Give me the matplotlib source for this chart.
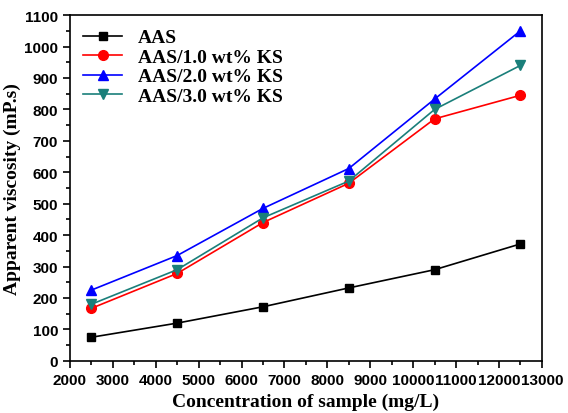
import matplotlib
matplotlib.use('Agg')
import matplotlib.pyplot as plt
from matplotlib.ticker import MultipleLocator

# Data
conc = [2500, 4500, 6500, 8500, 10500, 12500]
aas = [75, 120, 172, 232, 290, 372]
ks10 = [167, 278, 440, 565, 770, 845]
ks20 = [225, 335, 485, 612, 833, 1050]
ks30 = [180, 290, 455, 572, 800, 940]
labels = ['AAS', 'AAS/1.0 wt% KS', 'AAS/2.0 wt% KS', 'AAS/3.0 wt% KS']

fig = plt.figure(figsize=(5.68, 4.14), dpi=100)
ax = fig.add_axes([0.123, 0.126, 0.831, 0.835])

ax.plot(conc, aas, '-s', color='black', lw=1.2, ms=6, label=labels[0])
ax.plot(conc, ks10, '-o', color='red', lw=1.2, ms=7, label=labels[1])
ax.plot(conc, ks20, '-^', color='blue', lw=1.2, ms=7, label=labels[2])
ax.plot(conc, ks30, '-v', color='#1a7f7a', lw=1.2, ms=7, label=labels[3])

ax.set_xlim(2000, 13000)
ax.set_ylim(0, 1100)
ax.xaxis.set_major_locator(MultipleLocator(1000))
ax.xaxis.set_minor_locator(MultipleLocator(500))
ax.yaxis.set_major_locator(MultipleLocator(100))
ax.yaxis.set_minor_locator(MultipleLocator(50))
ax.tick_params(which='both', direction='out', top=False, right=False)
ax.tick_params(which='major', length=5, width=1.2)
ax.tick_params(which='minor', length=3, width=1.2)
for s in ax.spines.values():
    s.set_linewidth(1.2)

for lab in ax.get_xticklabels() + ax.get_yticklabels():
    lab.set_fontfamily('Liberation Sans')
    lab.set_fontweight('bold')
    lab.set_fontsize(11)

ax.set_xlabel('Concentration of sample (mg/L)', fontfamily='Liberation Serif',
              fontweight='bold', fontsize=14)
ax.set_ylabel('Apparent viscosity (mP.s)', fontfamily='Liberation Serif',
              fontweight='bold', fontsize=14, labelpad=2)

ax.legend(loc='upper left', frameon=False, handlelength=2.0,
          prop={'family': 'Liberation Serif', 'weight': 'bold', 'size': 14},
          borderaxespad=0.3, labelspacing=0.1)

fig.savefig('out.png', dpi=100)
